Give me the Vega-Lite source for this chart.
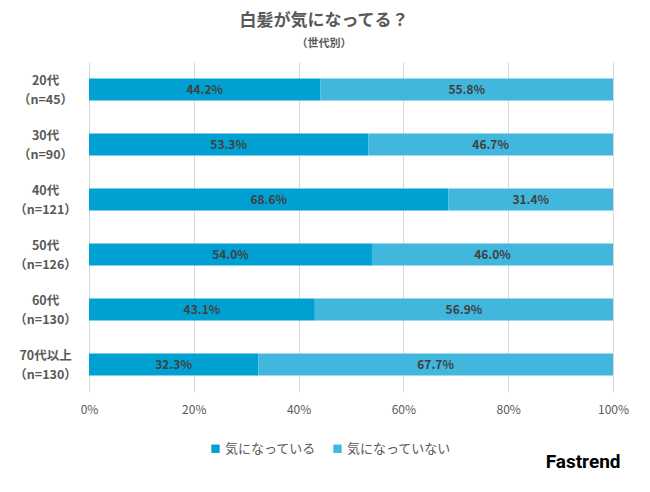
{
  "$schema": "https://vega.github.io/schema/vega-lite/v6.json",
  "width": 524,
  "height": 330,
  "autosize": "none",
  "padding": {"left": 89, "top": 62, "right": 37, "bottom": 100},
  "background": "white",
  "config": {
    "font": "Noto Sans CJK JP",
    "view": {"stroke": null}
  },
  "title": {
    "text": "白髪が気になってる？",
    "subtitle": "（世代別）",
    "anchor": "middle",
    "frame": "group",
    "dx": -27,
    "offset": 12,
    "fontSize": 17,
    "fontWeight": "bold",
    "color": "#595959",
    "subtitleFontSize": 11,
    "subtitleFontWeight": "bold",
    "subtitleColor": "#595959",
    "subtitlePadding": 8
  },
  "data": {
    "values": [
      {"age": "20代\n（n=45）", "order": 1, "resp": "気になっている", "ro": 0, "value": 0.442},
      {"age": "20代\n（n=45）", "order": 1, "resp": "気になっていない", "ro": 1, "value": 0.558},
      {"age": "30代\n（n=90）", "order": 2, "resp": "気になっている", "ro": 0, "value": 0.533},
      {"age": "30代\n（n=90）", "order": 2, "resp": "気になっていない", "ro": 1, "value": 0.467},
      {"age": "40代\n（n=121）", "order": 3, "resp": "気になっている", "ro": 0, "value": 0.686},
      {"age": "40代\n（n=121）", "order": 3, "resp": "気になっていない", "ro": 1, "value": 0.314},
      {"age": "50代\n（n=126）", "order": 4, "resp": "気になっている", "ro": 0, "value": 0.540},
      {"age": "50代\n（n=126）", "order": 4, "resp": "気になっていない", "ro": 1, "value": 0.460},
      {"age": "60代\n（n=130）", "order": 5, "resp": "気になっている", "ro": 0, "value": 0.431},
      {"age": "60代\n（n=130）", "order": 5, "resp": "気になっていない", "ro": 1, "value": 0.569},
      {"age": "70代以上\n（n=130）", "order": 6, "resp": "気になっている", "ro": 0, "value": 0.323},
      {"age": "70代以上\n（n=130）", "order": 6, "resp": "気になっていない", "ro": 1, "value": 0.677}
    ]
  },
  "transform": [
    {"stack": "value", "groupby": ["age"], "sort": [{"field": "ro"}], "as": ["v0", "v1"]},
    {"calculate": "(datum.v0 + datum.v1) / 2", "as": "mid"}
  ],
  "encoding": {
    "y": {
      "field": "age",
      "type": "nominal",
      "sort": {"field": "order"},
      "scale": {"paddingInner": 0.6, "paddingOuter": 0.3},
      "axis": {
        "title": null,
        "ticks": false,
        "domain": true,
        "domainColor": "#d9d9d9",
        "labelExpr": "split(datum.label, '\\n')",
        "labelAlign": "center",
        "labelBaseline": "middle",
        "labelOffset": -9,
        "labelPadding": 44,
        "labelFontSize": 12.5,
        "labelFontWeight": "bold",
        "labelColor": "#595959",
        "labelLineHeight": 19
      }
    }
  },
  "layer": [
    {
      "mark": {"type": "bar"},
      "encoding": {
        "x": {
          "field": "v0",
          "type": "quantitative",
          "scale": {"domain": [0, 1]},
          "axis": {
            "format": ".0%",
            "values": [0, 0.2, 0.4, 0.6, 0.8, 1],
            "grid": true,
            "gridColor": "#d9d9d9",
            "domain": false,
            "ticks": false,
            "labelPadding": 12,
            "labelFontSize": 12,
            "labelColor": "#595959",
            "labelFlush": false,
            "title": "Fastrend",
            "titleFont": "Roboto",
            "titleFontSize": 19,
            "titleFontWeight": "bold",
            "titleColor": "#000000",
            "titleAnchor": "end",
            "titleAlign": "right",
            "titleX": 531,
            "titleY": 60
          }
        },
        "x2": {"field": "v1"},
        "color": {
          "field": "resp",
          "type": "nominal",
          "sort": ["気になっている", "気になっていない"],
          "scale": {"domain": ["気になっている", "気になっていない"], "range": ["#00A0D2", "#41B7DE"]},
          "legend": {
            "title": null,
            "orient": "none",
            "direction": "horizontal",
            "legendX": 120,
            "legendY": 380,
            "symbolType": "square",
            "symbolSize": 70,
            "symbolStrokeWidth": 0,
            "labelFontSize": 13,
            "labelColor": "#595959",
            "labelOffset": 3,
            "columnPadding": 14
          }
        }
      }
    },
    {
      "mark": {"type": "text", "fontSize": 12, "fontWeight": "bold", "color": "#404040"},
      "encoding": {
        "x": {"field": "mid", "type": "quantitative"},
        "text": {"field": "value", "type": "quantitative", "format": ".1%"}
      }
    }
  ]
}
